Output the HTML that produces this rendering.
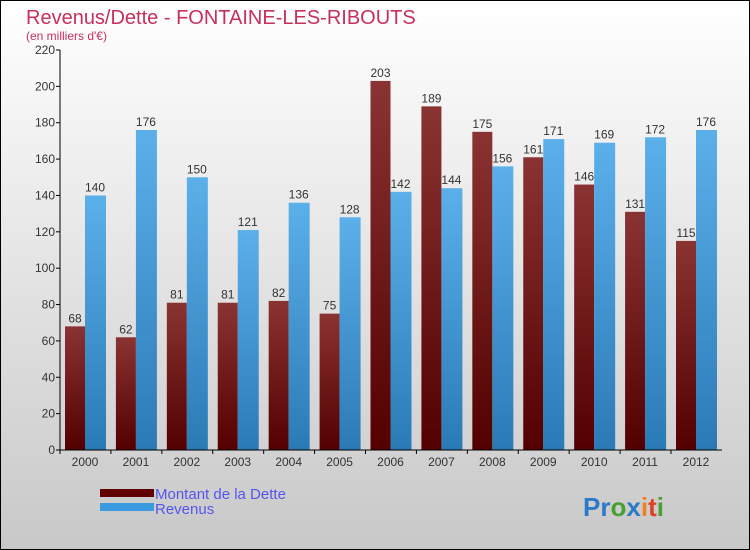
<!DOCTYPE html>
<html><head><meta charset="utf-8"><style>
body{margin:0}
svg{display:block;font-family:"Liberation Sans",sans-serif}
</style></head><body>
<svg id="chart" width="750" height="550">
<defs>
<linearGradient id="bg" x1="0" y1="0" x2="0" y2="1"><stop offset="0" stop-color="#ffffff"/><stop offset="1" stop-color="#c8c8c8"/></linearGradient>
<linearGradient id="gd" x1="0" y1="0" x2="0" y2="1"><stop offset="0" stop-color="#8a3333"/><stop offset="1" stop-color="#540000"/></linearGradient>
<linearGradient id="gr" x1="0" y1="0" x2="0" y2="1"><stop offset="0" stop-color="#5cb0ea"/><stop offset="1" stop-color="#2a7ab6"/></linearGradient>
</defs>
<rect x="0.5" y="0.5" width="749" height="549" fill="url(#bg)" stroke="#000"/>
<text x="26" y="24" font-size="20" fill="#c8305a">Revenus/Dette - FONTAINE-LES-RIBOUTS</text>
<text x="26" y="40" font-size="12" fill="#c8305a">(en milliers d'€)</text>
<g id="plot"></g>
<rect x="100" y="489" width="54" height="8" fill="#600000"/>
<rect x="100" y="503" width="54" height="8" fill="#3a9ae0"/>
<text x="155" y="499" font-size="15" fill="#5555ee">Montant de la Dette</text>
<text x="155" y="514" font-size="15" fill="#5555ee">Revenus</text>
<text x="583" y="516" font-size="26" font-weight="bold"><tspan fill="#2a7ac8">Pr</tspan><tspan fill="#48a030">o</tspan><tspan fill="#2a7ac8">x</tspan><tspan fill="#f08020">i</tspan><tspan fill="#e04020">t</tspan><tspan fill="#48a030">i</tspan></text>
</svg>
<script>
const categories=["2000","2001","2002","2003","2004","2005","2006","2007","2008","2009","2010","2011","2012"];
const dette=[68,62,81,81,82,75,203,189,175,161,146,131,115];
const revenus=[140,176,150,121,136,128,142,144,156,171,169,172,176];
const yTicks=[0,20,40,60,80,100,120,140,160,180,200,220];
const NS="http://www.w3.org/2000/svg";
const g=document.getElementById('plot');
const x0=60,x1=722,y0=450,yTop=50,yMax=220;
const y=v=>y0-(v/yMax)*(y0-yTop);
const step=(696-85)/(categories.length-1);
const cx=i=>85+i*step;
function mk(t,a,txt){const e=document.createElementNS(NS,t);for(const k in a)e.setAttribute(k,a[k]);if(txt!=null)e.textContent=txt;g.appendChild(e);return e;}
yTicks.forEach(v=>{
 const l=mk('line',{x1:x0-4,x2:x0,y1:y(v),y2:y(v),stroke:'#000'});
 
 
 const t=mk('text',{x:x0-5,y:y(v)+4,'font-size':12,'text-anchor':'end',fill:'#333'},v);
 
 
});
categories.forEach((c,i)=>{
 const b1=mk('rect',{x:cx(i)-20,y:y(dette[i]),width:20,height:y0-y(dette[i]),fill:'url(#gd)'});
 
 
 const b2=mk('rect',{x:cx(i),y:y(revenus[i]),width:21,height:y0-y(revenus[i]),fill:'url(#gr)'});
 
 
 const t1=mk('text',{x:cx(i)-10,y:y(dette[i])-4,'font-size':12,'text-anchor':'middle',fill:'#333'},dette[i]);
 
 
 const t2=mk('text',{x:cx(i)+10,y:y(revenus[i])-4,'font-size':12,'text-anchor':'middle',fill:'#333'},revenus[i]);
 
 
 const tk=mk('line',{x1:cx(i)-25,x2:cx(i)-25,y1:y0,y2:y0+4,stroke:'#000'});
 
 
 const xl=mk('text',{x:cx(i),y:y0+16,'font-size':12,'text-anchor':'middle',fill:'#333'},c);
 
 
});
const ya=mk('line',{x1:x0,x2:x0,y1:yTop,y2:y0,stroke:'#000'});


const xa=mk('line',{x1:x0,x2:x1,y1:y0,y2:y0,stroke:'#000'});


</script>
</body></html>
